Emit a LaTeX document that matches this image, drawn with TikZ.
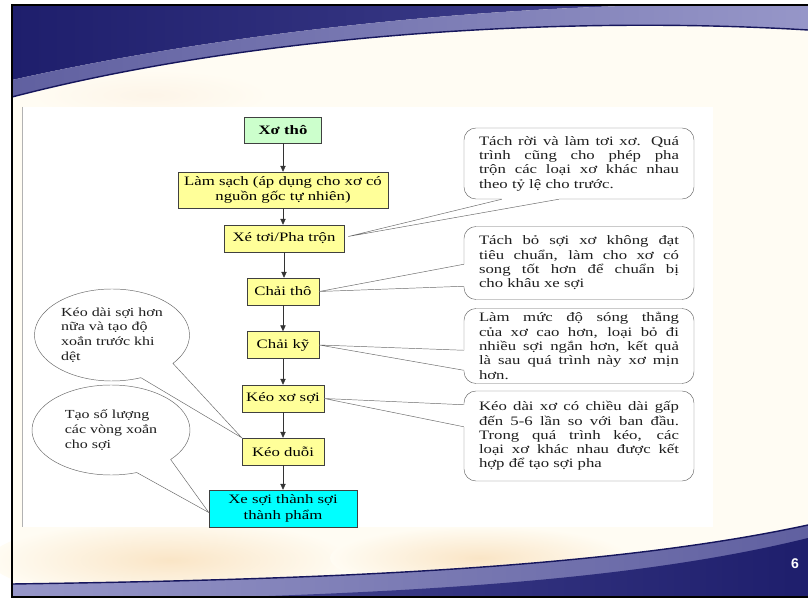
\documentclass[tikz,border=0pt]{standalone}
\usepackage{fontspec}
\setmainfont{Liberation Serif}[FakeStretch=1.3]
\newfontfamily\slidefont{Liberation Sans}
\usetikzlibrary{arrows.meta, calc, shapes.callouts}
\definecolor{stageyellow}{RGB}{255,255,153}
\definecolor{stagegreen}{RGB}{204,255,204}
\definecolor{stagecyan}{RGB}{0,255,255}
\definecolor{slidecream}{RGB}{255,252,243}
\definecolor{slidepeach}{RGB}{250,229,198}
\definecolor{navydark}{RGB}{30,30,108}
\definecolor{navymid}{RGB}{66,66,142}
\definecolor{bandmid}{RGB}{96,96,160}
\definecolor{bandlight}{RGB}{150,150,200}
\definecolor{bandedge}{RGB}{22,22,92}
\definecolor{calloutgray}{RGB}{105,105,105}
\definecolor{textdark}{RGB}{30,30,30}

\begin{document}
\begin{tikzpicture}[x=0.03cm, y=-0.03cm,
  stage/.style={draw=black!75, fill=stageyellow, align=center, inner sep=1pt, font=\fontsize{11}{13}\selectfont},
  flow/.style={black!80, -{Triangle[length=5pt, width=4.5pt]}},
  note/.style={draw=calloutgray, fill=white, rounded corners=0.36cm, text width=6cm, inner xsep=0.45cm, inner ysep=1pt, align=justify, text=textdark, font=\fontsize{11}{12.2}\selectfont},
  bubble/.style={ellipse callout, draw=calloutgray, fill=white, inner sep=0pt, align=left, text=textdark, callout pointer arc=30, font=\fontsize{10.5}{12.5}\selectfont},
  tail/.style={draw=calloutgray}]
  \useasboundingbox (0,0) rectangle (808,598);
  \fill[white] (0,0) rectangle (808,598);
  \fill[slidecream] (12,5) rectangle (808,597);
  \shade[inner color=slidepeach, outer color=slidecream] (170,560) ellipse (180 and 40);
  \shade[inner color=slidepeach, outer color=slidecream] (480,558) ellipse (150 and 32);
  \shade[inner color=slidepeach!40, outer color=slidecream] (150,95) ellipse (120 and 25);
  \shade[left color=navydark, right color=navymid] (12,5) -- (12,80) .. controls (180,42) and (420,10) .. (660,5) -- cycle;
  \shade[left color=bandmid, right color=bandlight] (12,80) .. controls (180,42) and (420,10) .. (660,5) -- (808,5) -- (808,30) .. controls (560,15) and (250,35) .. (12,97) -- cycle;
  \draw[bandedge, line width=1.2pt] (808,30) .. controls (560,15) and (250,35) .. (12,97);
  \shade[left color=bandlight, right color=bandmid] (12,584) .. controls (300,580) and (600,570) .. (808,525) -- (808,597) -- (12,597) -- cycle;
  \shade[left color=navymid, right color=navydark] (240,597) .. controls (450,590) and (650,577) .. (808,538) -- (808,597) -- cycle;
  \draw[bandedge, line width=1.2pt] (12,584) .. controls (300,580) and (600,570) .. (808,525);
  \draw[black, line width=1.5pt] (808,5) -- (12,5) -- (12,597) -- (808,597);
  \node[font=\slidefont\bfseries\fontsize{12}{14}\selectfont, text=white] (trang) at (795,564) {6};

  \fill[white] (22,107) rectangle (713,527);
  \draw[black!30] (22,107) -- (22,527);

  \node[stage, fill=stagegreen, minimum width=2.31cm, minimum height=0.78cm, font=\fontsize{11}{13}\selectfont\bfseries] (xotho) at (283,130) {Xơ thô};
  \node[stage, minimum width=6.3cm, minimum height=1.08cm] (lamsach) at (283,190) {Làm sạch (áp dụng cho xơ có\\nguồn gốc tự nhiên)};
  \node[stage, minimum width=3.6cm, minimum height=0.81cm] (xetoi) at (284,238.5) {Xé tơi/Pha trộn};
  \node[stage, minimum width=2.16cm, minimum height=0.81cm] (chaitho) at (283,291.5) {Chải thô};
  \node[stage, minimum width=2.16cm, minimum height=0.81cm] (chaiky) at (283,345) {Chải kỹ};
  \node[stage, minimum width=2.46cm, minimum height=0.81cm] (keoxo) at (283,398.5) {Kéo xơ sợi};
  \node[stage, minimum width=2.46cm, minimum height=0.81cm] (keoduoi) at (283,451.5) {Kéo duỗi};
  \node[stage, fill=stagecyan, minimum width=4.44cm, minimum height=1.11cm] (xesoi) at (283,508.5) {Xe sợi thành sợi\\thành phẩm};
  \foreach \a/\b in {xotho/lamsach, lamsach/xetoi, xetoi/chaitho, chaitho/chaiky, chaiky/keoxo, keoxo/keoduoi, keoduoi/xesoi}
    \draw[flow] (\a.south) -- (\a.south |- \b.north);

  \node[note, minimum height=2.13cm] (ghi1) at (579,163.5) {Tách rời và làm tơi xơ. Quá\linebreak trình cũng cho phép pha\linebreak trộn các loại xơ khác nhau\linebreak theo tỷ lệ cho trước.};
  \node[note, minimum height=2.19cm] (ghi2) at (579,263) {Tách bỏ sợi xơ không đạt\linebreak tiêu chuẩn, làm cho xơ có\linebreak song tốt hơn để chuẩn bị\linebreak cho khâu xe sợi};
  \node[note, minimum height=2.25cm] (ghi3) at (579,346) {Làm mức độ sóng thẳng\linebreak của xơ cao hơn, loại bỏ đi\linebreak nhiều sợi ngắn hơn, kết quả\linebreak là sau quá trình này xơ mịn\linebreak hơn.};
  \node[note, minimum height=2.7cm] (ghi4) at (579,436) {Kéo dài xơ có chiều dài gấp\linebreak đến 5-6 lần so với ban đầu.\linebreak Trong quá trình kéo, các\linebreak loại xơ khác nhau được kết\linebreak hợp để tạo sợi pha};

  \coordinate (m1) at ($(xetoi.east)+(4,-2)$);
  \coordinate (a1) at ($(ghi1.south west)+(38,0)$);
  \coordinate (b1) at ($(ghi1.south west)+(95,0)$);
  \fill[white] (a1) -- (m1) -- (b1) -- ($(b1)+(0,-2)$) -- ($(a1)+(0,-2)$) -- cycle;
  \draw[tail] (a1) -- (m1) -- (b1);
  \coordinate (a2) at ($(ghi2.north west)+(0,38)$);
  \coordinate (b2) at ($(ghi2.north west)+(0,60)$);
  \fill[white] (a2) -- (chaitho.east) -- (b2) -- ($(b2)+(2,0)$) -- ($(a2)+(2,0)$) -- cycle;
  \draw[tail] (a2) -- (chaitho.east) -- (b2);
  \coordinate (a3) at ($(ghi3.north west)+(0,42)$);
  \coordinate (b3) at ($(ghi3.north west)+(0,62)$);
  \fill[white] (a3) -- (chaiky.east) -- (b3) -- ($(b3)+(2,0)$) -- ($(a3)+(2,0)$) -- cycle;
  \draw[tail] (a3) -- (chaiky.east) -- (b3);
  \coordinate (a4) at ($(ghi4.north west)+(0,14)$);
  \coordinate (b4) at ($(ghi4.north west)+(0,36)$);
  \fill[white] (a4) -- (keoxo.east) -- (b4) -- ($(b4)+(2,0)$) -- ($(a4)+(2,0)$) -- cycle;
  \draw[tail] (a4) -- (keoxo.east) -- (b4);

  \node[bubble, minimum width=4.65cm, minimum height=2.76cm, callout absolute pointer={(keoduoi.north west)}] (bong1) at (112,335) {Kéo dài sợi hơn\\nữa và tạo độ\\xoắn trước khi\\dệt};
  \node[bubble, minimum width=4.74cm, minimum height=2.7cm, callout absolute pointer={($(xesoi.west)+(0,4)$)}] (bong2) at (111,430) {Tạo số lượng\\các vòng xoắn\\cho sợi};
\end{tikzpicture}
\end{document}
